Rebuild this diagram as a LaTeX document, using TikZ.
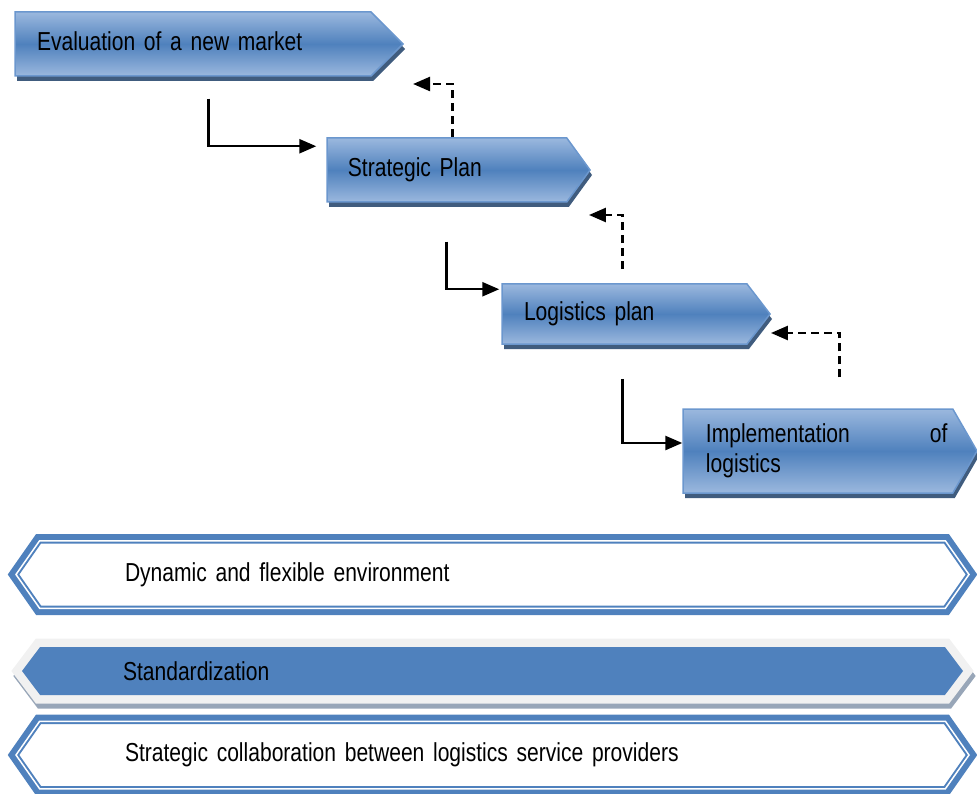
\documentclass[tikz,border=0pt]{standalone}
\usepackage{fontspec}
\setmainfont{Liberation Sans}[FakeStretch=0.81,WordSpace=0.8]
\usetikzlibrary{shapes.symbols,shadows,arrows.meta}
\definecolor{boxtop}{HTML}{9BB8DE}
\definecolor{boxmid}{HTML}{4F81BD}
\definecolor{boxedge}{HTML}{6B97CE}
\definecolor{boxshadow}{HTML}{2B4A70}
\definecolor{bandblue}{HTML}{4F81BD}
\definecolor{bandgray}{HTML}{F1F1F1}
\definecolor{bandshadow}{HTML}{98A6B8}
\tikzstyle{txt}=[font=\fontsize{26}{30}\selectfont]
\tikzstyle{procbox}=[signal,signal to=east,draw=boxedge,line width=1.5pt,
  top color=boxtop,bottom color=boxtop,middle color=boxmid,
  drop shadow={shadow xshift=2pt,shadow yshift=-5pt,fill=boxshadow,opacity=.9},
  inner sep=0pt,align=left,txt]
\tikzstyle{frameband}=[signal,signal to=east and west,signal pointer angle=110,
  preaction={draw=bandblue,line width=13.5pt},
  fill=white,draw=bandblue,line width=5.5pt,
  postaction={draw=white,line width=1.5pt},
  minimum width=953pt,minimum height=67.5pt,inner sep=0pt,
  align=left,text width=735pt,txt]
\tikzstyle{fillband}=[signal,signal to=east and west,signal pointer angle=106,
  preaction={draw=bandshadow,fill=bandshadow,line width=17pt,
    transform canvas={xshift=2pt,yshift=-5pt}},
  preaction={draw=bandgray,line width=17pt},
  fill=bandblue,minimum width=941pt,minimum height=48pt,inner sep=0pt,
  align=left,text width=739pt,txt]
\tikzstyle{flow}=[line width=2.5pt,-{Triangle[length=17pt,width=14pt]}]
\tikzstyle{back}=[flow,dash pattern=on 8pt off 5pt]

\begin{document}
\begin{tikzpicture}[x=1pt,y=-1pt]
\useasboundingbox (0,0) rectangle (977,794);
% the four steps
\node [procbox,signal pointer angle=90,minimum width=388pt,minimum height=64pt,
  text width=312pt] (eval) at (193,44) {\raisebox{5pt}{Evaluation of a new market}};
\node [procbox,signal pointer angle=108,minimum width=263pt,minimum height=64pt,
  text width=198pt] (strat) at (446.9,170) {\raisebox{5pt}{Strategic Plan}};
\node [procbox,signal pointer angle=105,minimum width=268pt,minimum height=60pt,
  text width=201pt] (logi) at (624.5,314) {\raisebox{2pt}{Logistics plan}};
\node [procbox,signal pointer angle=120,minimum width=294pt,minimum height=84pt,
  text width=224pt] (impl) at (817.9,451) {Implementation\hfill\makebox[0pt][l]{of}\\logistics};
% forward arrows
\draw [flow,shorten >=10pt] ([xshift=194pt,yshift=-22pt]eval.south west)
  |- ([yshift=-9pt]strat.north west);
\draw [flow,shorten >=2pt] ([xshift=120pt,yshift=-39pt]strat.south west)
  |- ([yshift=-6pt]logi.north west);
\draw [flow] ([xshift=121pt,yshift=-34pt]logi.south west)
  |- ([yshift=8pt]impl.west);
% feedback arrows
\draw [back] ([xshift=126pt]strat.north west)
  |- ([xshift=9pt,yshift=-40pt]eval.east);
\draw [back] ([xshift=121pt,yshift=14pt]logi.north west)
  |- ([xshift=-2pt,yshift=-45pt]strat.east);
\draw [back] ([xshift=157pt,yshift=31pt]impl.north west)
  |- ([yshift=-19pt]logi.east);
% the three bands
\node [frameband] (dyn) at (492.5,574.5) {Dynamic and flexible environment};
\node [fillband] (std) at (492.5,671) {Standardization};
\node [frameband] (collab) at (492.5,755) {Strategic collaboration between logistics service providers};
\end{tikzpicture}
\end{document}
